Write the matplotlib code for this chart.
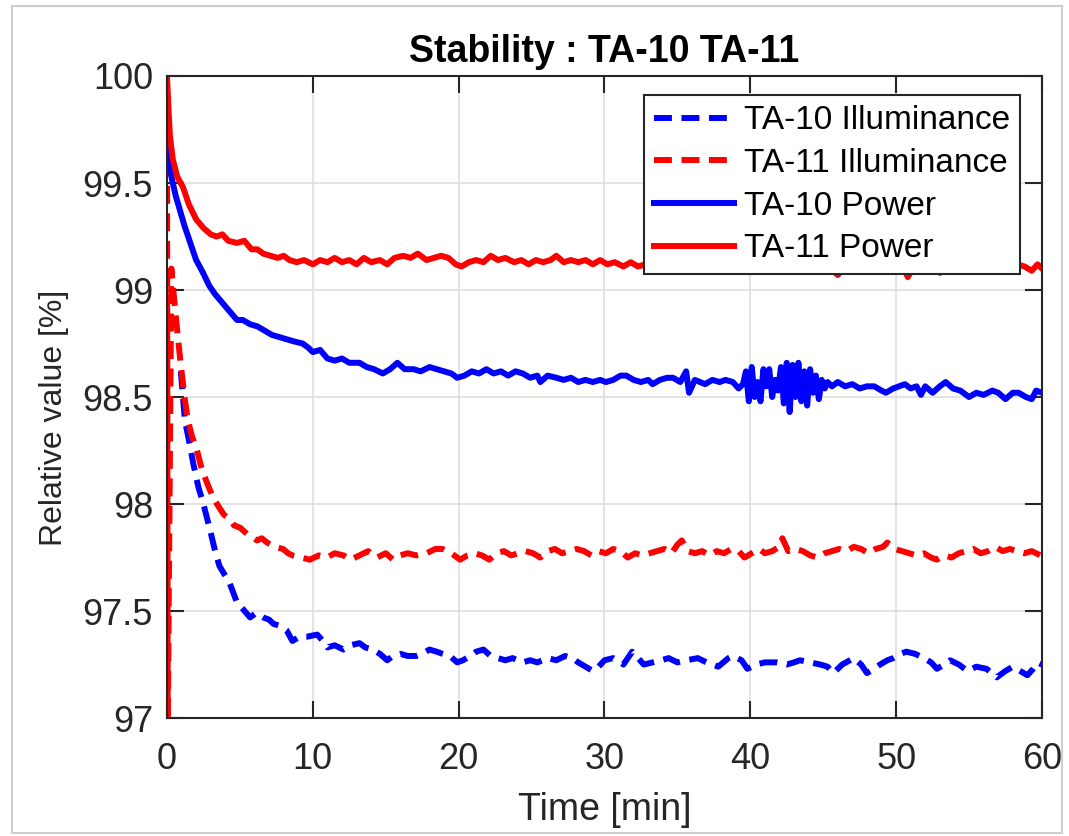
import numpy as np
import matplotlib
matplotlib.use('Agg')
import matplotlib.pyplot as plt
from matplotlib.patches import Rectangle

plt.rcParams['font.family'] = ['Liberation Sans', 'DejaVu Sans']

# (time [min], relative value [%])
ta10_illum = [
    (0.95, 98.62), (1.23, 98.39), (1.5, 98.30), (1.8, 98.19), (2.15, 98.08),
    (2.5, 98.00), (2.95, 97.88), (3.3, 97.78), (3.6, 97.71), (3.95, 97.67),
    (4.3, 97.63), (4.8, 97.54), (5.2, 97.51), (5.7, 97.47), (6.1, 97.49),
    (6.6, 97.47), (7.0, 97.46), (7.3, 97.44), (7.8, 97.43), (8.2, 97.41),
    (8.6, 97.36), (9.1, 97.38), (9.6, 97.38), (10.3, 97.39), (10.7, 97.36),
    (11.0, 97.33), (11.5, 97.34), (12.1, 97.32), (12.6, 97.34), (13.2, 97.35),
    (13.6, 97.33), (14.1, 97.32), (14.6, 97.30), (15.1, 97.27), (15.5, 97.29),
    (16.0, 97.30), (16.5, 97.29), (17.1, 97.29), (17.5, 97.30), (18.0, 97.32),
    (18.5, 97.31), (18.9, 97.30), (19.4, 97.29), (19.9, 97.26), (20.3, 97.27),
    (20.8, 97.29), (21.2, 97.31), (21.7, 97.32), (22.2, 97.29), (22.7, 97.28),
    (23.2, 97.27), (23.7, 97.28), (24.4, 97.26), (24.9, 97.27), (25.4, 97.26),
    (26.1, 97.28), (26.7, 97.27), (27.3, 97.29), (27.8, 97.28), (28.2, 97.26),
    (28.7, 97.24), (29.2, 97.22), (29.6, 97.24), (30.0, 97.27), (30.6, 97.28),
    (31.3, 97.25), (31.9, 97.31), (32.3, 97.28), (32.7, 97.25), (33.3, 97.26),
    (33.9, 97.27), (34.4, 97.28), (35.0, 97.26), (35.6, 97.27), (36.4, 97.28),
    (37.0, 97.26), (37.8, 97.24), (38.5, 97.28), (38.8, 97.29), (39.4, 97.27),
    (39.8, 97.23), (40.4, 97.25), (41.0, 97.26), (41.8, 97.26), (42.5, 97.25),
    (43.0, 97.26), (43.4, 97.27), (44.1, 97.26), (44.8, 97.25), (45.3, 97.24),
    (45.7, 97.21), (46.3, 97.25), (47.1, 97.28), (47.6, 97.25), (48.0, 97.21),
    (48.5, 97.23), (48.9, 97.25), (49.4, 97.27), (49.8, 97.28), (50.3, 97.30),
    (50.7, 97.31), (51.3, 97.30), (51.9, 97.28), (52.4, 97.26), (52.8, 97.23),
    (53.3, 97.25), (53.7, 97.27), (54.3, 97.25), (54.9, 97.22), (55.5, 97.24),
    (56.2, 97.23), (56.9, 97.19), (57.5, 97.22), (58.0, 97.24), (58.5, 97.22),
    (59.0, 97.20), (59.4, 97.23), (59.7, 97.26), (60.0, 97.25),
]

ta11_illum = [
    (0.0, 100.0), (0.05, 96.9), (0.3, 99.10), (0.6, 98.88), (0.9, 98.68),
    (1.2, 98.50), (1.44, 98.39), (1.7, 98.32), (2.06, 98.25), (2.4, 98.16),
    (2.74, 98.10), (3.1, 98.04), (3.43, 98.00), (3.9, 97.95), (4.3, 97.93),
    (4.6, 97.90), (5.0, 97.89), (5.5, 97.86), (6.17, 97.83), (6.5, 97.84),
    (6.86, 97.82), (7.4, 97.80), (7.96, 97.79), (8.3, 97.77), (8.6, 97.76),
    (9.2, 97.75), (9.8, 97.74), (10.4, 97.76), (10.97, 97.75), (11.5, 97.77),
    (12.1, 97.76), (12.6, 97.74), (13.2, 97.76), (13.8, 97.78), (14.4, 97.75),
    (15.0, 97.77), (15.5, 97.74), (16.0, 97.76), (16.5, 97.77), (17.1, 97.76),
    (17.8, 97.77), (18.4, 97.79), (18.9, 97.79), (19.5, 97.77), (20.1, 97.74),
    (20.6, 97.76), (21.1, 97.77), (21.6, 97.76), (22.1, 97.74), (22.6, 97.77),
    (23.1, 97.78), (23.6, 97.76), (24.1, 97.77), (24.6, 97.78), (25.1, 97.77),
    (25.6, 97.75), (26.1, 97.78), (26.6, 97.79), (27.1, 97.77), (27.6, 97.78),
    (28.1, 97.79), (28.6, 97.78), (29.1, 97.76), (29.6, 97.78), (30.1, 97.77),
    (30.6, 97.79), (31.1, 97.78), (31.6, 97.75), (32.1, 97.77), (32.6, 97.76),
    (33.1, 97.77), (33.6, 97.78), (34.1, 97.79), (34.6, 97.77), (35.0, 97.81),
    (35.3, 97.83), (35.7, 97.78), (36.2, 97.77), (36.7, 97.78), (37.2, 97.76),
    (37.7, 97.78), (38.2, 97.77), (38.7, 97.79), (39.2, 97.78), (39.6, 97.75),
    (40.1, 97.77), (40.6, 97.79), (41.0, 97.77), (41.5, 97.78), (42.0, 97.80),
    (42.2, 97.84), (42.6, 97.78), (43.1, 97.79), (43.6, 97.78), (44.1, 97.76),
    (44.6, 97.75), (45.1, 97.77), (45.6, 97.78), (46.1, 97.79), (46.6, 97.78),
    (47.1, 97.80), (47.6, 97.79), (48.1, 97.77), (48.6, 97.79), (49.1, 97.80),
    (49.4, 97.82), (49.9, 97.79), (50.4, 97.78), (50.9, 97.77), (51.4, 97.76),
    (51.9, 97.77), (52.4, 97.75), (52.8, 97.74), (53.3, 97.76), (53.8, 97.75),
    (54.3, 97.77), (54.8, 97.78), (55.3, 97.79), (55.8, 97.77), (56.3, 97.78),
    (56.8, 97.80), (57.3, 97.78), (57.8, 97.79), (58.3, 97.78), (58.8, 97.77),
    (59.3, 97.78), (59.9, 97.76),
]

ta10_power = [
    (0.0, 99.93), (0.15, 99.70), (0.3, 99.53), (0.6, 99.44), (0.9, 99.37),
    (1.2, 99.30), (1.6, 99.22), (2.0, 99.14), (2.4, 99.09), (2.9, 99.02),
    (3.3, 98.98), (3.8, 98.94), (4.3, 98.90), (4.8, 98.86), (5.2, 98.86),
    (5.7, 98.84), (6.2, 98.83), (6.7, 98.81), (7.2, 98.79), (7.7, 98.78),
    (8.2, 98.77), (8.7, 98.76), (9.3, 98.75), (9.7, 98.73), (10.0, 98.71),
    (10.5, 98.72), (11.0, 98.68), (11.5, 98.67), (12.0, 98.68), (12.5, 98.66),
    (13.2, 98.66), (13.7, 98.64), (14.2, 98.63), (14.8, 98.61), (15.3, 98.63),
    (15.8, 98.66), (16.3, 98.63), (16.9, 98.63), (17.4, 98.62), (18.0, 98.64),
    (18.5, 98.63), (19.0, 98.62), (19.5, 98.61), (19.9, 98.59), (20.4, 98.60),
    (20.9, 98.62), (21.4, 98.61), (21.9, 98.63), (22.4, 98.61), (22.9, 98.62),
    (23.4, 98.60), (23.9, 98.62), (24.4, 98.61), (24.9, 98.59), (25.4, 98.60),
    (25.6, 98.57), (26.1, 98.60), (26.7, 98.59), (27.2, 98.58), (27.7, 98.59),
    (28.2, 98.57), (28.7, 98.58), (29.2, 98.57), (29.7, 98.58), (30.1, 98.57),
    (30.6, 98.58), (31.1, 98.60), (31.5, 98.60), (32.0, 98.58), (32.5, 98.57),
    (33.0, 98.58), (33.3, 98.56), (33.8, 98.58), (34.3, 98.59), (34.7, 98.59),
    (35.2, 98.57), (35.6, 98.62), (35.8, 98.52), (36.2, 98.58), (36.9, 98.56),
    (37.4, 98.58), (37.9, 98.57), (38.3, 98.58), (38.8, 98.57), (39.2, 98.54),
    (39.5, 98.56), (39.7, 98.62), (39.9, 98.48), (40.1, 98.64), (40.3, 98.50),
    (40.5, 98.57), (40.7, 98.48), (40.9, 98.63), (41.1, 98.55), (41.3, 98.63),
    (41.5, 98.50), (41.7, 98.58), (41.9, 98.53), (42.1, 98.64), (42.3, 98.47),
    (42.5, 98.66), (42.7, 98.43), (42.9, 98.65), (43.1, 98.50), (43.3, 98.66),
    (43.5, 98.48), (43.7, 98.62), (43.9, 98.46), (44.1, 98.63), (44.3, 98.52),
    (44.5, 98.60), (44.7, 98.49), (44.9, 98.58), (45.1, 98.54), (45.3, 98.57),
    (45.6, 98.55), (46.0, 98.57), (46.5, 98.55), (47.0, 98.56), (47.5, 98.54),
    (48.0, 98.55), (48.5, 98.55), (49.0, 98.53), (49.3, 98.52), (49.8, 98.54),
    (50.2, 98.55), (50.6, 98.56), (51.0, 98.54), (51.4, 98.55), (51.7, 98.51),
    (52.0, 98.55), (52.5, 98.52), (53.0, 98.55), (53.4, 98.57), (53.9, 98.54),
    (54.4, 98.53), (55.0, 98.50), (55.5, 98.52), (56.0, 98.51), (56.6, 98.53),
    (57.0, 98.52), (57.5, 98.49), (58.0, 98.52), (58.4, 98.52), (58.9, 98.50),
    (59.3, 98.49), (59.6, 98.53), (60.0, 98.52),
]

ta11_power = [
    (0.0, 100.0), (0.1, 99.85), (0.2, 99.72), (0.4, 99.61), (0.7, 99.53),
    (1.1, 99.48), (1.5, 99.40), (2.0, 99.33), (2.5, 99.29), (3.0, 99.26),
    (3.4, 99.25), (3.8, 99.26), (4.2, 99.23), (4.8, 99.22), (5.3, 99.23),
    (5.8, 99.19), (6.2, 99.19), (6.6, 99.17), (7.1, 99.16), (7.6, 99.15),
    (8.0, 99.16), (8.4, 99.14), (8.9, 99.13), (9.4, 99.14), (10.0, 99.12),
    (10.5, 99.14), (11.0, 99.13), (11.5, 99.15), (12.0, 99.13), (12.5, 99.14),
    (13.0, 99.12), (13.5, 99.15), (14.0, 99.13), (14.6, 99.14), (15.1, 99.12),
    (15.6, 99.15), (16.2, 99.16), (16.7, 99.15), (17.2, 99.17), (17.8, 99.14),
    (18.3, 99.15), (18.8, 99.16), (19.3, 99.15), (19.8, 99.12), (20.2, 99.11),
    (20.7, 99.13), (21.2, 99.14), (21.7, 99.13), (22.2, 99.16), (22.7, 99.14),
    (23.2, 99.15), (23.8, 99.13), (24.3, 99.14), (24.8, 99.12), (25.3, 99.14),
    (25.8, 99.13), (26.3, 99.14), (26.7, 99.16), (27.2, 99.13), (27.7, 99.14),
    (28.2, 99.13), (28.7, 99.14), (29.2, 99.12), (29.7, 99.14), (30.2, 99.12),
    (30.7, 99.13), (31.3, 99.11), (31.8, 99.13), (32.3, 99.11), (32.8, 99.12),
    (33.5, 99.12), (34.5, 99.13), (35.5, 99.12), (36.5, 99.13), (37.5, 99.12),
    (38.5, 99.11), (39.5, 99.12), (40.5, 99.12), (41.5, 99.11), (42.5, 99.12),
    (43.5, 99.11), (44.5, 99.12), (45.5, 99.10), (46.0, 99.07), (46.5, 99.11),
    (47.5, 99.12), (48.5, 99.11), (49.5, 99.12), (50.5, 99.11), (50.8, 99.06),
    (51.2, 99.11), (52.0, 99.12), (53.0, 99.08), (53.4, 99.11), (54.0, 99.12),
    (55.0, 99.11), (56.0, 99.12), (57.0, 99.11), (57.8, 99.14), (58.3, 99.12),
    (58.8, 99.11), (59.3, 99.09), (59.7, 99.12), (60.0, 99.10),
]

labels = ['TA-10 Illuminance', 'TA-11 Illuminance', 'TA-10 Power', 'TA-11 Power']
xticks = [0, 10, 20, 30, 40, 50, 60]
yticks = [97, 97.5, 98, 98.5, 99, 99.5, 100]
ytick_labels = ['97', '97.5', '98', '98.5', '99', '99.5', '100']

fig = plt.figure(figsize=(10.69, 8.36), dpi=100)
ax = fig.add_axes([0.1562, 0.1411, 0.8185, 0.768])

lw = 4.3
dash = (3.0, 1.6)
series = [(ta10_illum, 'b', '--'), (ta11_illum, 'r', '--'),
          (ta10_power, 'b', '-'), (ta11_power, 'r', '-')]
for (pts, col, ls), lab in zip(series, labels):
    t, v = zip(*pts)
    line, = ax.plot(t, v, color=col, ls=ls, lw=lw, label=lab)
    if ls == '--':
        line.set_dashes(dash)

ax.set_xlim(0, 60)
ax.set_ylim(97, 100)
ax.set_xticks(xticks)
ax.set_yticks(yticks)
ax.set_yticklabels(ytick_labels)
ax.grid(True, color='#dedede', lw=1.2)
ax.set_axisbelow(True)
ax.tick_params(direction='in', length=12, width=1.5, labelsize=26,
               colors='#262626', top=True, right=True)
ax.tick_params(axis='y', pad=10)
ax.tick_params(axis='x', pad=17)
for s in ax.spines.values():
    s.set_color('#262626')
    s.set_linewidth(1.5)

ax.set_title('Stability : TA-10 TA-11', fontsize=27, fontweight='bold', pad=10)
ax.set_ylabel('Relative value [%]', fontsize=23, color='#262626', labelpad=10)
ax.yaxis.label.set_y(0.467)
ax.set_xlabel('Time [min]', fontsize=27, color='#262626', labelpad=11)

leg = ax.legend(loc='upper right', bbox_to_anchor=(0.975, 0.97), borderaxespad=0,
                fontsize=24, handlelength=2.4, handletextpad=0.3,
                labelspacing=0.35, borderpad=0.3, fancybox=False, framealpha=1)
leg.get_frame().set_edgecolor('#262626')
leg.get_frame().set_linewidth(1.5)

# screenshot frame around the figure
fig.patches.append(Rectangle((12 / 1069, 3 / 836), 1050 / 1069, 827 / 836,
                             transform=fig.transFigure, facecolor='none',
                             edgecolor='#cfcfcf', lw=1.5, zorder=-1))

fig.savefig('out.png', dpi=100)
